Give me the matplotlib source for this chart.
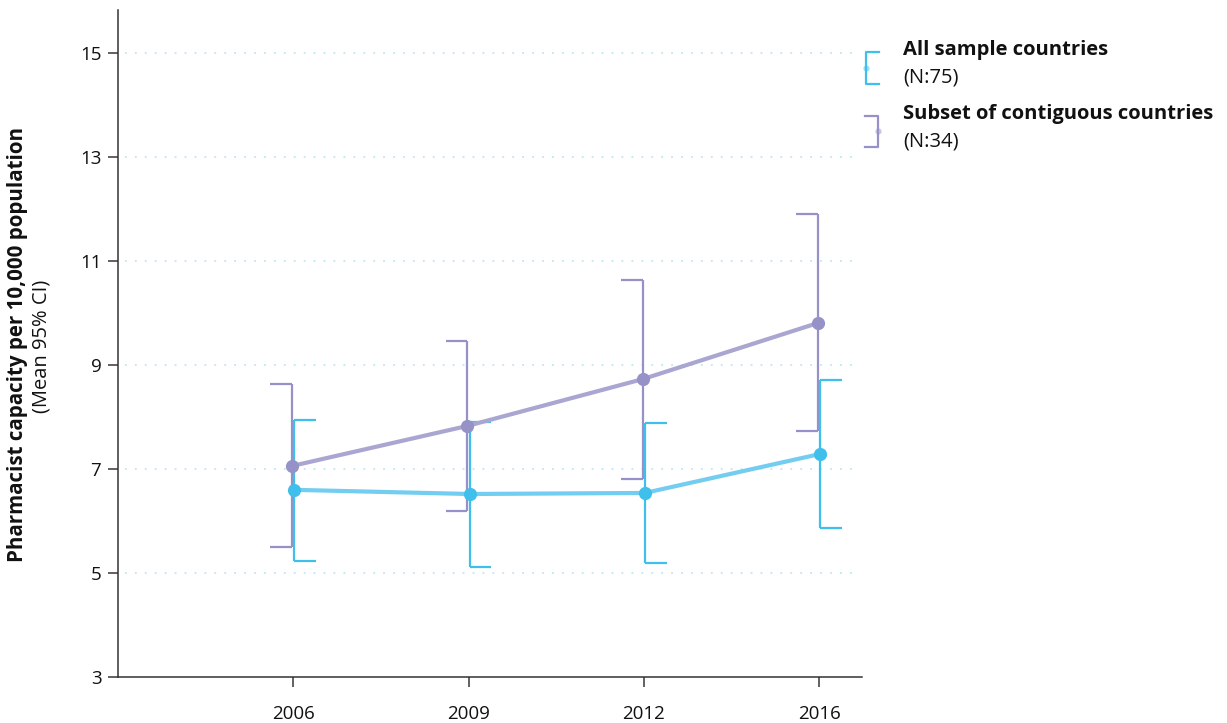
import numpy as np
import matplotlib
matplotlib.use('Agg')
import matplotlib.pyplot as plt
from matplotlib.lines import Line2D

plt.rcParams['font.family'] = ['Open Sans', 'DejaVu Sans']

years = ['2006', '2009', '2012', '2016']

all_mean = [6.60, 6.52, 6.54, 7.29]
all_lo = [5.23, 5.12, 5.19, 5.87]
all_hi = [7.94, 7.90, 7.88, 8.71]

sub_mean = [7.06, 7.83, 8.73, 9.81]
sub_lo = [5.50, 6.19, 6.81, 7.73]
sub_hi = [8.63, 9.46, 10.63, 11.90]

yticks = [3, 5, 7, 9, 11, 13, 15]

BLUE = '#3fc0ec'
BLUE_LINE = '#72cdf0'
PURP = '#9691c6'
PURP_LINE = '#a9a6d2'
GRID = '#bfe6f6'

fig = plt.figure(figsize=(12.27, 7.23), dpi=100)
ax = fig.add_axes([118/1227., 46/723., 744/1227., 667/723.])

x = np.arange(len(years))
off = 0.006
capw = 0.125

# subset of contiguous countries (caps pointing left)
xs = x - off
ax.plot(xs, sub_mean, color=PURP_LINE, lw=3.0, zorder=3, solid_capstyle='round')
ax.vlines(xs, sub_lo, sub_hi, color=PURP, lw=1.6, zorder=2)
ax.hlines(sub_lo, xs - capw, xs, color=PURP, lw=1.6, zorder=2)
ax.hlines(sub_hi, xs - capw, xs, color=PURP, lw=1.6, zorder=2)
ax.plot(xs, sub_mean, 'o', color=PURP, ms=9.5, mec='none', zorder=5)

# all sample countries (caps pointing right)
xb = x + off
ax.plot(xb, all_mean, color=BLUE_LINE, lw=3.0, zorder=3, solid_capstyle='round')
ax.vlines(xb, all_lo, all_hi, color=BLUE, lw=1.6, zorder=2)
ax.hlines(all_lo, xb, xb + capw, color=BLUE, lw=1.6, zorder=2)
ax.hlines(all_hi, xb, xb + capw, color=BLUE, lw=1.6, zorder=2)
ax.plot(xb, all_mean, 'o', color=BLUE, ms=9.5, mec='none', zorder=5)

ax.set_xlim(-1.0, 3.245)
ax.set_ylim(3, 15.83)
ax.set_xticks(x)
ax.set_xticklabels(years)
ax.set_yticks(yticks)
ax.tick_params(axis='both', labelsize=13.5, colors='#555555', labelcolor='#111111', length=7, width=1.3)
ax.tick_params(axis='x', pad=13)
ax.tick_params(axis='y', pad=5)

for t in yticks[1:]:
    ax.axhline(t, xmin=0.01, xmax=0.99, color=GRID, lw=1.3, ls=(0, (1, 4.5)), zorder=0)

for s in ['top', 'right']:
    ax.spines[s].set_visible(False)
for s in ['left', 'bottom']:
    ax.spines[s].set_color('#333333')
    ax.spines[s].set_linewidth(1.1)

fig.text(18/1227., 1 - 345/723., 'Pharmacist capacity per 10,000 population', rotation=90,
         ha='center', va='center', fontsize=14.8, fontweight='bold', color='#111111')
fig.text(42/1227., 1 - 346/723., '(Mean 95% CI)', rotation=90,
         ha='center', va='center', fontsize=14.5, color='#111111')

# legend drawn by hand
def fx(px):
    return px / 1227.

def fy(py):
    return 1 - py / 723.

def bracket(xv, xc, y0, y1, color):
    fig.add_artist(Line2D([fx(xc), fx(xv), fx(xv), fx(xc)], [fy(y0), fy(y0), fy(y1), fy(y1)],
                          color=color, lw=1.6))

bracket(866, 879, 52, 84, BLUE)
fig.add_artist(Line2D([fx(866)], [fy(68)], marker='o', ms=4.5, color=BLUE, alpha=0.5, mec='none'))
fig.text(fx(903), fy(50), 'All sample countries', fontsize=14.5, fontweight='bold',
         va='center', ha='left', color='#111111')
fig.text(fx(903), fy(77), '(N:75)', fontsize=14.5, va='center', ha='left', color='#111111')

bracket(878, 865, 116, 147, PURP)
fig.add_artist(Line2D([fx(878)], [fy(131)], marker='o', ms=4.5, color=PURP, alpha=0.5, mec='none'))
fig.text(fx(903), fy(114), 'Subset of contiguous countries', fontsize=14.5, fontweight='bold',
         va='center', ha='left', color='#111111')
fig.text(fx(903), fy(142), '(N:34)', fontsize=14.5, va='center', ha='left', color='#111111')

fig.savefig('out.png', dpi=100)
